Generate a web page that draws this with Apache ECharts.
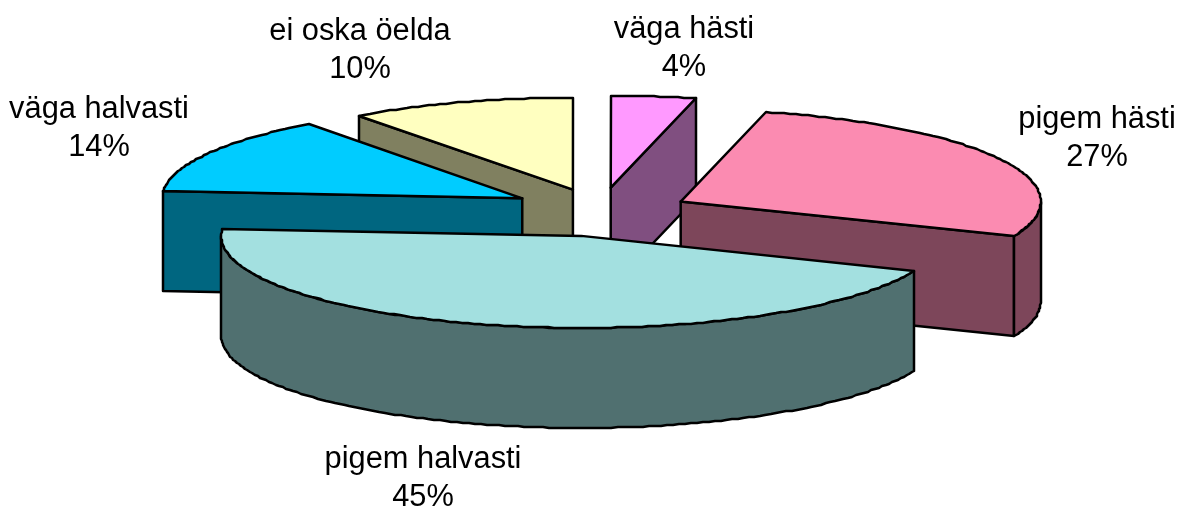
<!DOCTYPE html>
<html>
<head>
<meta charset="utf-8">
<title>Pie</title>
<script src="https://cdn.jsdelivr.net/npm/echarts@6/dist/echarts.min.js"></script>
<style>
  html, body { margin: 0; padding: 0; background: #fff; }
  #chart { width: 1184px; height: 510px; }
</style>
</head>
<body>
<div id="chart"></div>
<script>
// clockwise from 12 o'clock, same order as the original chart
const names = ['väga hästi', 'pigem hästi', 'pigem halvasti', 'väga halvasti', 'ei oska öelda'];
// shown rounded
const values = [3.8, 27.4, 45, 13.7, 10.1];

const topColors = ['#ff99ff', '#fb8bb1', '#a3e0e0', '#00ccff', '#ffffc0'];
const sideColors = ['#804f80', '#7d465a', '#507070', '#006680', '#808060'];
// back to front
const sliceZ = [3, 4, 5, 2, 1];
const labelCenters = [[684, 49], [1097, 139], [423, 479], [99, 129], [360, 51]];
// small per-slice shift, the original projection is not quite regular
const tipNudge = [[0, -2], [0.5, -0.5], [2, 1], [1, -3], [1, -1]];

// pie projection
const cx = 600, cy = 212.5, rx = 360, ry = 92, depth = 100, explode = 0.25;

const total = values.reduce((a, b) => a + b, 0);
let acc = 0;
const sliceData = values.map(function (v, i) {
  const start = acc / total * 360;
  acc += v;
  return [i, start, acc / total * 360];
});

function rim(tip, deg) {
  const a = deg * Math.PI / 180;
  return [Math.round(tip[0] + rx * Math.sin(a)), Math.round(tip[1] - ry * Math.cos(a))];
}

function arc(tip, from, to) {
  const pts = [];
  const n = Math.max(2, Math.ceil(Math.abs(to - from)));
  for (let k = 0; k <= n; k++) {
    pts.push(rim(tip, from + (to - from) * k / n));
  }
  return pts;
}

function down(p) {
  return [p[0], p[1] + depth];
}

function renderSlice(params, api) {
  const i = api.value(0), start = api.value(1), end = api.value(2);
  const mid = (start + end) / 2 * Math.PI / 180;
  const tip = [
    cx + explode * rx * Math.sin(mid) + tipNudge[i][0],
    cy - explode * ry * Math.cos(mid) + tipNudge[i][1]
  ];
  const z = sliceZ[i];
  const line = { stroke: '#000', lineWidth: 2.5, lineJoin: 'round' };
  const side = Object.assign({ fill: sideColors[i] }, line);
  const children = [];

  function face(a, b) {
    children.push({
      type: 'polygon', z2: z,
      shape: { points: [a, b, down(b), down(a)] },
      style: side
    });
  }

  // cut faces which look at the viewer
  if (Math.sin(end * Math.PI / 180) > 0.001) face(tip, rim(tip, end));
  if (Math.sin(start * Math.PI / 180) < -0.001) face(tip, rim(tip, start));

  // outer wall, only the front half of the rim
  const wallFrom = Math.max(start, 90), wallTo = Math.min(end, 270);
  if (wallFrom < wallTo) {
    const edge = arc(tip, wallFrom, wallTo);
    children.push({
      type: 'polygon', z2: z,
      shape: { points: edge.concat(edge.slice().reverse().map(down)) },
      style: side
    });
  }

  children.push({
    type: 'polygon', z2: z,
    shape: { points: [tip].concat(arc(tip, start, end)) },
    style: Object.assign({ fill: topColors[i] }, line)
  });

  children.push({
    type: 'text', z2: 10,
    style: {
      x: labelCenters[i][0],
      y: labelCenters[i][1],
      text: names[i] + '\n' + Math.round(values[i]) + '%',
      align: 'center',
      verticalAlign: 'middle',
      font: '30.8px "Liberation Sans", Arial, sans-serif',
      lineHeight: 38,
      fill: '#000'
    }
  });

  return { type: 'group', children: children };
}

const myChart = echarts.init(document.getElementById('chart'));
myChart.setOption({
  animation: false,
  backgroundColor: '#fff',
  series: [{
    type: 'custom',
    coordinateSystem: 'none',
    renderItem: renderSlice,
    data: sliceData,
    silent: true
  }]
});
</script>
</body>
</html>
